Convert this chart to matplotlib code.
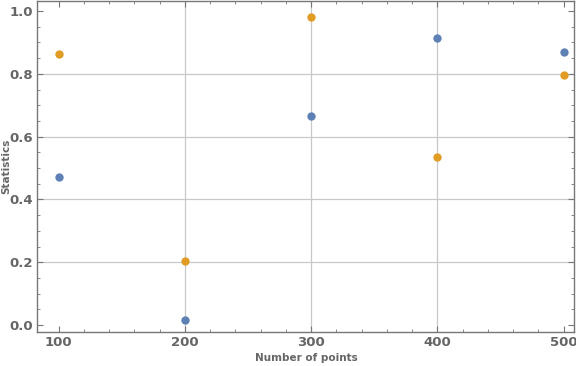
import matplotlib
matplotlib.use('Agg')
import matplotlib.pyplot as plt
from matplotlib.ticker import MultipleLocator

# Data
n_points = [100, 200, 300, 400, 500]
series_blue = [0.471, 0.017, 0.667, 0.915, 0.871]
series_orange = [0.862, 0.204, 0.981, 0.534, 0.795]

BLUE = '#5E81B5'
ORANGE = '#E19C24'
TEXT = '#666666'
FRAME = '#777777'
GRID = '#c8c8c8'

fig = plt.figure(figsize=(5.76, 3.66), dpi=100)
ax = fig.add_axes([37 / 576, 34 / 366, (574 - 37) / 576, (332 - 1) / 366])

for xv in [200, 300, 400]:
    ax.axvline(xv, color=GRID, lw=0.9, zorder=0)
for yv in [0.2, 0.4, 0.6, 0.8]:
    ax.axhline(yv, color=GRID, lw=0.9, zorder=0)

ax.scatter(n_points, series_blue, s=36, color=BLUE, zorder=3, linewidths=0)
ax.scatter(n_points, series_orange, s=36, color=ORANGE, zorder=3, linewidths=0)

ax.set_xlim(82.8, 508.2)
ax.set_ylim(-0.022, 1.032)

ax.xaxis.set_major_locator(MultipleLocator(100))
ax.xaxis.set_minor_locator(MultipleLocator(20))
ax.yaxis.set_major_locator(MultipleLocator(0.2))
ax.yaxis.set_minor_locator(MultipleLocator(0.05))
ax.yaxis.set_major_formatter(plt.FuncFormatter(lambda v, p: f'{v:.1f}'))

ax.tick_params(which='both', direction='in', top=True, right=True, color=FRAME,
               labelcolor=TEXT)
ax.tick_params(which='major', length=4, width=0.8, labelsize=9.5, pad=3)
ax.tick_params(which='minor', length=2, width=0.6)
for lab in ax.get_xticklabels() + ax.get_yticklabels():
    lab.set_fontweight('bold')

for sp in ax.spines.values():
    sp.set_color(FRAME)
    sp.set_linewidth(1.0)

# axis titles placed like the reference
fig.text(306 / 576, 1 - 358 / 366, 'Number of points', fontsize=7.5, fontweight='bold',
         color=TEXT, ha='center', va='center')
fig.text(6 / 576, 1 - 166 / 366, 'Statistics', fontsize=7.5, fontweight='bold',
         color=TEXT, ha='center', va='center', rotation=90)

fig.savefig('out.png', dpi=100)
